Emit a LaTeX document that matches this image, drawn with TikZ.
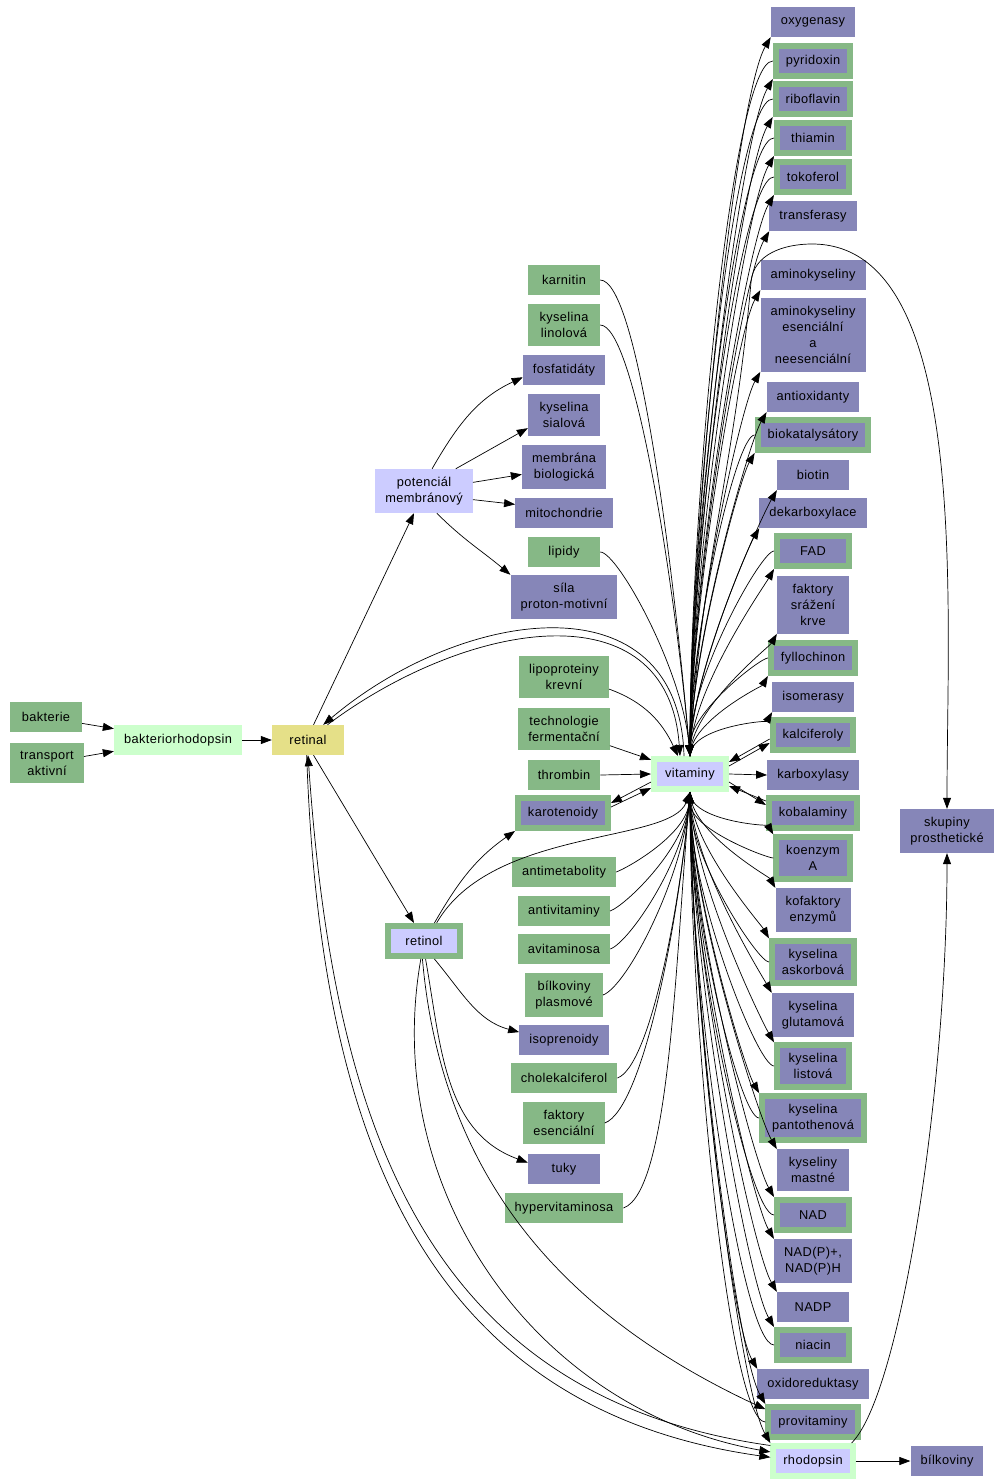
\documentclass[tikz,border=0pt]{standalone}
\usepackage{fontspec}
\setmainfont{Liberation Sans}[LetterSpace=3]
\usetikzlibrary{arrows.meta}
\definecolor{grn}{RGB}{134,184,134}
\definecolor{pur}{RGB}{134,134,184}
\definecolor{lav}{RGB}{204,204,255}
\definecolor{lgr}{RGB}{204,255,204}
\definecolor{ylw}{RGB}{229,224,136}
\tikzset{
	box/.style={inner xsep=10pt, inner ysep=8pt, minimum width=72pt, minimum height=30pt, align=center, font=\fontsize{12.8}{16}\selectfont},
	src/.style={box, fill=grn},
	trg/.style={box, fill=pur},
	dbl/.style={box, fill=pur, draw=grn, line width=6pt},
	hub/.style={box, fill=lav, draw=lgr, line width=6pt},
	edge/.style={line width=.7pt, -{Triangle[length=11pt,width=8pt]}}
}
\begin{document}
\begin{tikzpicture}[x=1pt,y=-1pt]
	\useasboundingbox (0,0) rectangle (1002,1483);
	\node[src] (bak) at (46,717) {bakterie};
	\node[src] (tra) at (47,763) {transport\\aktivní};
	\node[box, fill=lgr] (brh) at (178,740) {bakteriorhodopsin};
	\node[box, fill=ylw] (ret) at (308,740) {retinal};
	\node[box, fill=lav] (pot) at (424,491) {potenciál\\membránový};
	\node[box, fill=lav, draw=grn, line width=6pt] (rol) at (424,941) {retinol};
	\node[hub] (vit) at (690,774) {vitaminy};
	\node[hub] (rho) at (813,1461) {rhodopsin};
	\node[trg] (bil) at (947,1461) {bílkoviny};
	\node[trg] (skp) at (947,831) {skupiny\\prosthetické};
	\node[dbl] (krt) at (563,813) {karotenoidy};
	\foreach \n/\y/\t in {kar/280/karnitin, kln/325/{kyselina\\linolová}, lip/552/lipidy,
		lpk/677/{lipoproteiny\\krevní}, tfe/729/{technologie\\fermentační}, thr/775/thrombin,
		amb/872/antimetabolity, avt/911/antivitaminy, avm/949/avitaminosa,
		bpl/995/{bílkoviny\\plasmové}, chk/1078/cholekalciferol, fes/1123/{faktory\\esenciální},
		hyp/1208/hypervitaminosa}{
		\node[src] (\n) at (564,\y) {\t};
	}
	\foreach \n/\y/\t in {fos/370/fosfatidáty, ksi/415/{kyselina\\sialová}, mem/467/{membrána\\biologická},
		mit/513/mitochondrie, spm/597/{síla\\proton-motivní}, ipr/1040/isoprenoidy, tuk/1169/tuky}{
		\node[trg] (\n) at (564,\y) {\t};
	}
	\foreach \n/\y/\t in {oxy/22/oxygenasy, trf/216/transferasy, amk/275/aminokyseliny,
		ame/335/{aminokyseliny\\esenciální\\a\\neesenciální}, aox/397/antioxidanty, btn/475/biotin,
		dek/513/dekarboxylace, fsk/605/{faktory\\srážení\\krve}, iso/697/isomerasy, kbx/775/karboxylasy,
		kof/910/{kofaktory\\enzymů}, kgl/1015/{kyselina\\glutamová}, kym/1170/{kyseliny\\mastné},
		nph/1261/{NAD(P)+,\\NAD(P)H}, ndp/1307/NADP, oxr/1384/oxidoreduktasy}{
		\node[trg] (\n) at (813,\y) {\t};
	}
	\foreach \n/\y/\t in {pyr/61/pyridoxin, rib/99/riboflavin, thi/138/thiamin, tok/177/tokoferol,
		bio/435/biokatalysátory, fad/551/FAD, fyl/658/fyllochinon, kal/735/kalciferoly,
		kob/813/kobalaminy, koa/858/{koenzym\\A}, kas/962/{kyselina\\askorbová},
		kli/1066/{kyselina\\listová}, kpa/1118/{kyselina\\pantothenová}, nad/1215/NAD,
		nia/1345/niacin, prv/1422/provitaminy}{
		\node[dbl] (\n) at (813,\y) {\t};
	}
	\coordinate (lft) at (751,282);
	\coordinate (top) at (812,244);

	\draw[edge] (bak.-10) -- (brh.170);
	\draw[edge] (tra.10) -- (brh.190);
	\draw[edge] (brh) -- (ret);
	\draw[edge] (ret.70) -- ([xshift=-10pt]pot.south);
	\draw[edge] (ret.-70) -- ([xshift=-10pt]rol.north);
	\draw[edge] ([xshift=-6pt]vit.north) .. controls +(-5,-180) and +(140,-118) .. (ret.45);
	\draw[edge] (ret.38) .. controls +(140,-105) and +(-12,-170) .. ([xshift=-10pt]vit.north);
	\draw[edge] (ret.-95) to[out=-88,in=172,looseness=1.1] (rho.175);
	\draw[edge] (rho.160) to[out=172,in=-86,looseness=1.1] (ret.south);
	\draw[edge] (pot.70) to[out=60,in=205] (fos.190);
	\draw[edge] (pot.35) -- (ksi.200);
	\draw[edge] (pot.10) -- (mem.190);
	\draw[edge] (pot.-10) -- (mit.170);
	\draw[edge] (pot.-60) to[out=-45,in=140] (spm.north west);
	\draw[edge] (rol.60) to[out=60,in=215] (krt.south west);
	\draw[edge] (rol.55) to[out=60,in=250,in looseness=.5] (vit.south);
	\draw[edge] (rol.-60) to[out=-50,in=165] (ipr.170);
	\draw[edge] (rol.-85) to[out=-80,in=160] (tuk.170);
	\draw[edge] (rol.-95) to[out=-85,in=155] (prv.165);
	\draw[edge] (rol.-100) to[out=-100,in=170] (rho.168);

	\foreach \n in {kar,kln,lip}
		\draw[edge] (\n.east) to[out=0,in=95,out looseness=.2,in looseness=1] (vit.north);
	\foreach \n in {amb,avt,avm,bpl,chk,fes,hyp}
		\draw[edge] (\n.east) to[out=20,in=265,out looseness=.3,in looseness=1] (vit.south);
	\draw[edge] (lpk.-15) to[out=-20,in=115] ([xshift=-12pt]vit.north);
	\draw[edge] (tfe.-20) -- (vit.160);
	\draw[edge] (thr.east) -- (vit.west);
	\draw[edge] ([yshift=-8pt]vit.west) -- ([yshift=10pt]krt.east);
	\draw[edge] ([yshift=6pt]krt.east) -- ([yshift=-14pt]vit.west);

	\foreach \n in {oxy,pyr,rib,thi,tok,trf,amk,ame,aox,bio,btn,dek,fad,fsk,fyl,iso}
		\draw[edge] (vit.north) to[out=90,in=240,out looseness=.8,in looseness=.25] (\n.south west);
	\foreach \n in {pyr,rib,thi,tok,bio,fad,fyl}
		\draw[edge] (\n.west) to[out=180,in=90,out looseness=.15,in looseness=.9] (vit.north);
	\foreach \n in {koa,kof,kas,kgl,kli,kpa,kym,nad,nph,ndp,nia,oxr,prv,rho}
		\draw[edge] (vit.south) to[out=270,in=120,out looseness=.8,in looseness=.25] (\n.north west);
	\foreach \n in {koa,kas,kli,kpa,nad,nia,prv}
		\draw[edge] (\n.west) to[out=180,in=270,out looseness=.15,in looseness=.9] (vit.south);
	\draw[edge] (vit.east) -- (kbx.west);
	\draw[edge] ([yshift=8pt]vit.east) -- ([yshift=-8pt]kal.west);
	\draw[edge] ([yshift=-4pt]kal.west) -- ([yshift=12pt]vit.east);
	\draw[edge] ([yshift=-8pt]vit.east) -- ([yshift=8pt]kob.west);
	\draw[edge] ([yshift=12pt]kob.west) -- ([yshift=-12pt]vit.east);

	\draw[edge] (vit.north) to[out=87,in=265] (lft) to[out=85,in=180] (top)
		to[out=0,in=90,out looseness=.7,in looseness=.9] (skp.north);
	\draw[edge] (rho.25) to[out=45,in=270,out looseness=.3,in looseness=1] (skp.south);
	\draw[edge] (rho) -- (bil);
\end{tikzpicture}
\end{document}
